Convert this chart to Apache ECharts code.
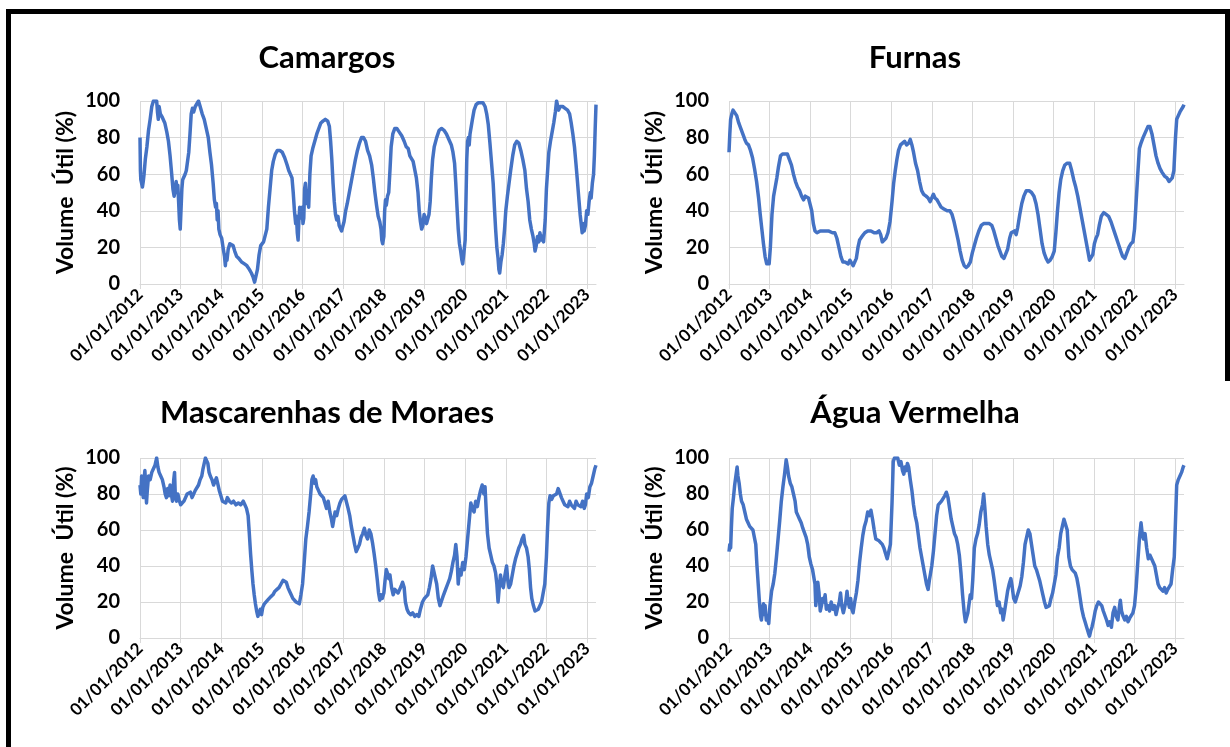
<!DOCTYPE html>
<html><head><meta charset="utf-8">
<script src="https://cdn.jsdelivr.net/npm/echarts@6/dist/echarts.min.js"></script>
<style>html,body{margin:0;padding:0;background:#fff}#c{width:1230px;height:747px}</style>
</head><body><div id="c"></div>
<script>
const titles = ['Camargos', 'Furnas', 'Mascarenhas de Moraes', 'Água Vermelha'];
const yearTicks = [2012,2013,2014,2015,2016,2017,2018,2019,2020,2021,2022,2023];
const yTickLabels = [0,20,40,60,80,100];
const yName = 'Volume  Útil (%)';

const camargos = [[2012.00,80],[2012.01,62],[2012.02,57],[2012.04,55],[2012.06,53],[2012.08,56],[2012.10,60],[2012.13,68],[2012.17,75],[2012.21,84],[2012.25,90],[2012.29,97],[2012.33,100],[2012.37,99],[2012.41,100],[2012.43,94],[2012.45,90],[2012.47,97],[2012.50,93],[2012.55,91],[2012.61,88],[2012.66,83],[2012.70,78],[2012.74,70],[2012.78,60],[2012.81,52],[2012.84,48],[2012.87,52],[2012.89,56],[2012.91,50],[2012.93,54],[2012.95,45],[2012.97,35],[2012.99,30],[2013.01,31],[2013.03,52],[2013.05,57],[2013.08,56],[2013.11,60],[2013.14,62],[2013.17,63],[2013.20,72],[2013.23,82],[2013.26,93],[2013.29,96],[2013.32,94],[2013.36,97],[2013.40,98],[2013.44,100],[2013.48,97],[2013.53,93],[2013.58,90],[2013.63,85],[2013.68,80],[2013.72,72],[2013.76,65],[2013.80,55],[2013.83,46],[2013.86,42],[2013.88,44],[2013.90,35],[2013.92,40],[2013.94,30],[2013.97,27],[2014.01,25],[2014.05,19],[2014.08,15],[2014.10,10],[2014.12,16],[2014.14,13],[2014.17,19],[2014.21,22],[2014.25,23],[2014.29,21],[2014.33,18],[2014.38,15],[2014.43,14],[2014.50,12],[2014.57,11],[2014.63,10],[2014.69,8],[2014.74,6],[2014.78,4],[2014.82,1],[2014.85,2],[2014.89,8],[2014.93,16],[2014.97,21],[2015.00,20],[2015.04,23],[2015.08,22],[2015.12,30],[2015.16,42],[2015.20,52],[2015.24,62],[2015.28,67],[2015.33,71],[2015.38,73],[2015.44,73],[2015.50,72],[2015.56,69],[2015.62,65],[2015.66,62],[2015.70,62],[2015.74,58],[2015.77,50],[2015.80,40],[2015.83,33],[2015.85,37],[2015.87,28],[2015.89,24],[2015.91,35],[2015.93,42],[2015.95,36],[2015.97,38],[2015.99,42],[2016.01,33],[2016.03,36],[2016.05,52],[2016.07,55],[2016.09,48],[2016.11,44],[2016.13,50],[2016.15,42],[2016.18,60],[2016.21,70],[2016.25,74],[2016.30,78],[2016.35,82],[2016.40,85],[2016.45,88],[2016.50,89],[2016.56,90],[2016.62,89],[2016.66,86],[2016.69,78],[2016.72,68],[2016.75,55],[2016.78,45],[2016.81,38],[2016.84,35],[2016.87,37],[2016.90,32],[2016.93,33],[2016.96,29],[2016.99,28],[2017.02,34],[2017.06,40],[2017.10,44],[2017.15,50],[2017.20,56],[2017.25,62],[2017.30,68],[2017.35,73],[2017.40,77],[2017.45,80],[2017.50,80],[2017.55,78],[2017.60,73],[2017.65,70],[2017.70,65],[2017.74,58],[2017.78,50],[2017.82,43],[2017.86,37],[2017.90,34],[2017.93,30],[2017.95,24],[2017.97,22],[2018.00,26],[2018.02,40],[2018.04,46],[2018.06,43],[2018.09,48],[2018.12,50],[2018.15,62],[2018.18,75],[2018.22,82],[2018.27,85],[2018.32,85],[2018.38,83],[2018.44,81],[2018.50,78],[2018.55,75],[2018.60,74],[2018.64,70],[2018.68,70],[2018.72,67],[2018.76,66],[2018.80,58],[2018.84,50],[2018.87,40],[2018.90,34],[2018.93,30],[2018.96,32],[2018.99,38],[2019.02,36],[2019.05,33],[2019.08,34],[2019.11,38],[2019.14,45],[2019.17,58],[2019.20,68],[2019.24,75],[2019.30,80],[2019.36,84],[2019.42,85],[2019.48,84],[2019.54,82],[2019.60,79],[2019.66,76],[2019.70,72],[2019.74,66],[2019.77,55],[2019.80,42],[2019.83,30],[2019.86,22],[2019.89,18],[2019.92,13],[2019.94,11],[2019.97,17],[2020.00,24],[2020.02,45],[2020.04,68],[2020.06,78],[2020.08,80],[2020.10,76],[2020.12,82],[2020.15,86],[2020.18,90],[2020.22,95],[2020.27,98],[2020.32,99],[2020.38,99],[2020.44,99],[2020.49,97],[2020.53,93],[2020.57,87],[2020.61,77],[2020.65,66],[2020.69,55],[2020.72,42],[2020.75,30],[2020.78,20],[2020.81,14],[2020.83,8],[2020.85,6],[2020.88,12],[2020.91,16],[2020.94,22],[2020.97,30],[2021.00,40],[2021.04,48],[2021.08,55],[2021.12,62],[2021.17,70],[2021.22,76],[2021.27,78],[2021.32,77],[2021.37,73],[2021.42,68],[2021.47,62],[2021.51,52],[2021.55,45],[2021.59,35],[2021.63,30],[2021.67,26],[2021.70,22],[2021.72,18],[2021.75,21],[2021.78,26],[2021.81,23],[2021.84,28],[2021.87,24],[2021.90,26],[2021.93,23],[2021.97,35],[2022.00,52],[2022.03,62],[2022.06,72],[2022.10,78],[2022.14,83],[2022.18,88],[2022.22,94],[2022.25,100],[2022.27,98],[2022.30,95],[2022.34,97],[2022.40,97],[2022.46,96],[2022.52,95],[2022.57,93],[2022.61,88],[2022.65,82],[2022.69,75],[2022.73,65],[2022.76,57],[2022.80,46],[2022.83,38],[2022.86,32],[2022.88,28],[2022.91,33],[2022.93,29],[2022.96,32],[2022.99,40],[2023.02,38],[2023.05,45],[2023.08,50],[2023.10,47],[2023.13,55],[2023.16,60],[2023.18,70],[2023.20,85],[2023.22,98]];

const furnas = [[2012.00,72],[2012.02,82],[2012.04,90],[2012.07,93],[2012.10,95],[2012.14,95],[2012.19,92],[2012.24,88],[2012.29,85],[2012.34,82],[2012.39,79],[2012.43,77],[2012.48,76],[2012.53,73],[2012.58,69],[2012.63,63],[2012.68,56],[2012.73,47],[2012.77,38],[2012.81,30],[2012.85,22],[2012.89,15],[2012.93,11],[2012.96,12],[2012.99,11],[2013.02,20],[2013.06,38],[2013.10,48],[2013.14,53],[2013.18,58],[2013.22,64],[2013.27,70],[2013.32,71],[2013.38,71],[2013.44,71],[2013.49,68],[2013.54,65],[2013.59,60],[2013.64,56],[2013.69,53],[2013.74,51],[2013.79,48],[2013.84,46],[2013.88,48],[2013.92,49],[2013.96,47],[2014.00,46],[2014.04,40],[2014.08,33],[2014.12,29],[2014.17,28],[2014.25,29],[2014.35,29],[2014.45,29],[2014.55,28],[2014.61,28],[2014.66,25],[2014.71,20],[2014.76,15],[2014.81,12],[2014.86,12],[2014.90,13],[2014.94,11],[2014.98,13],[2015.02,12],[2015.06,10],[2015.10,11],[2015.14,14],[2015.18,20],[2015.22,24],[2015.28,26],[2015.35,28],[2015.42,29],[2015.50,29],[2015.58,28],[2015.64,28],[2015.70,29],[2015.74,27],[2015.78,23],[2015.82,22],[2015.87,25],[2015.92,28],[2015.97,34],[2016.02,45],[2016.06,55],[2016.10,62],[2016.14,68],[2016.18,73],[2016.23,76],[2016.28,77],[2016.33,78],[2016.38,76],[2016.43,77],[2016.47,79],[2016.51,76],[2016.55,72],[2016.60,66],[2016.65,62],[2016.70,56],[2016.75,51],[2016.80,49],[2016.86,48],[2016.91,47],[2016.96,45],[2017.00,44],[2017.04,49],[2017.08,47],[2017.13,46],[2017.18,44],[2017.23,42],[2017.30,41],[2017.38,40],[2017.45,40],[2017.50,38],[2017.55,34],[2017.60,29],[2017.65,24],[2017.70,18],[2017.75,13],[2017.80,10],[2017.85,9],[2017.90,10],[2017.95,12],[2018.00,17],[2018.05,21],[2018.10,25],[2018.16,29],[2018.22,32],[2018.28,33],[2018.35,33],[2018.42,33],[2018.48,32],[2018.53,29],[2018.58,25],[2018.63,21],[2018.68,18],[2018.73,15],[2018.78,14],[2018.82,15],[2018.87,19],[2018.92,25],[2018.96,28],[2019.00,27],[2019.04,29],[2019.08,27],[2019.12,31],[2019.17,38],[2019.22,44],[2019.27,48],[2019.33,51],[2019.40,51],[2019.46,50],[2019.52,48],[2019.57,44],[2019.62,38],[2019.67,30],[2019.72,22],[2019.77,17],[2019.82,14],[2019.87,12],[2019.92,13],[2019.97,15],[2020.02,18],[2020.06,28],[2020.10,40],[2020.14,50],[2020.18,57],[2020.23,62],[2020.28,65],[2020.34,66],[2020.40,66],[2020.45,62],[2020.50,57],[2020.55,53],[2020.60,48],[2020.65,42],[2020.70,36],[2020.75,30],[2020.80,24],[2020.85,18],[2020.89,13],[2020.93,12],[2020.97,16],[2021.01,22],[2021.05,25],[2021.09,27],[2021.13,32],[2021.18,37],[2021.24,39],[2021.30,38],[2021.36,37],[2021.42,34],[2021.48,30],[2021.54,26],[2021.60,22],[2021.66,18],[2021.71,15],[2021.76,14],[2021.81,17],[2021.86,20],[2021.91,22],[2021.96,23],[2022.00,30],[2022.04,45],[2022.08,60],[2022.12,74],[2022.16,77],[2022.21,80],[2022.27,83],[2022.33,86],[2022.38,86],[2022.43,82],[2022.48,76],[2022.53,70],[2022.58,66],[2022.63,63],[2022.68,61],[2022.74,59],[2022.80,58],[2022.85,56],[2022.89,55],[2022.93,58],[2022.97,62],[2023.01,80],[2023.04,90],[2023.08,92],[2023.12,94],[2023.16,95],[2023.20,97],[2023.22,98]];

const mascarenhas = [[2012.00,85],[2012.02,80],[2012.04,90],[2012.06,82],[2012.08,78],[2012.10,88],[2012.12,93],[2012.14,85],[2012.16,75],[2012.18,82],[2012.21,90],[2012.25,88],[2012.29,92],[2012.33,94],[2012.37,96],[2012.41,100],[2012.44,95],[2012.47,92],[2012.51,90],[2012.55,88],[2012.59,84],[2012.62,80],[2012.65,78],[2012.68,83],[2012.71,79],[2012.74,85],[2012.77,80],[2012.80,76],[2012.83,88],[2012.85,92],[2012.87,78],[2012.90,76],[2012.93,80],[2012.96,77],[2013.00,74],[2013.04,73],[2013.08,76],[2013.12,78],[2013.16,80],[2013.20,79],[2013.24,81],[2013.28,78],[2013.32,80],[2013.36,82],[2013.40,82],[2013.44,85],[2013.48,88],[2013.52,90],[2013.55,94],[2013.58,97],[2013.61,100],[2013.64,99],[2013.67,97],[2013.70,92],[2013.73,90],[2013.77,88],[2013.81,85],[2013.85,84],[2013.88,89],[2013.91,86],[2013.95,82],[2013.99,79],[2014.03,76],[2014.07,77],[2014.11,75],[2014.15,78],[2014.20,76],[2014.25,75],[2014.30,76],[2014.36,74],[2014.42,75],[2014.48,74],[2014.54,76],[2014.58,74],[2014.62,72],[2014.66,68],[2014.69,58],[2014.72,47],[2014.75,38],[2014.78,30],[2014.81,24],[2014.84,19],[2014.87,15],[2014.90,12],[2014.93,14],[2014.96,16],[2014.99,13],[2015.02,17],[2015.06,19],[2015.10,18],[2015.14,21],[2015.18,20],[2015.22,23],[2015.27,24],[2015.32,26],[2015.37,27],[2015.42,28],[2015.47,30],[2015.52,32],[2015.56,33],[2015.60,31],[2015.64,28],[2015.68,26],[2015.72,24],[2015.76,22],[2015.80,21],[2015.84,20],[2015.88,19],[2015.92,19],[2015.96,24],[2016.00,30],[2016.04,42],[2016.08,55],[2016.12,62],[2016.16,70],[2016.20,80],[2016.23,88],[2016.26,90],[2016.29,86],[2016.32,88],[2016.35,84],[2016.39,82],[2016.43,80],[2016.47,81],[2016.51,78],[2016.55,75],[2016.59,72],[2016.63,76],[2016.67,70],[2016.71,66],[2016.74,62],[2016.77,66],[2016.80,70],[2016.84,68],[2016.88,72],[2016.92,75],[2016.96,77],[2017.00,76],[2017.04,79],[2017.08,78],[2017.12,72],[2017.16,68],[2017.20,62],[2017.24,57],[2017.28,52],[2017.32,48],[2017.36,50],[2017.40,52],[2017.44,56],[2017.48,58],[2017.52,61],[2017.56,57],[2017.60,55],[2017.64,60],[2017.68,58],[2017.72,53],[2017.76,47],[2017.80,40],[2017.84,32],[2017.87,25],[2017.90,21],[2017.93,24],[2017.96,22],[2018.00,25],[2018.03,32],[2018.06,38],[2018.09,36],[2018.12,33],[2018.15,35],[2018.19,28],[2018.23,24],[2018.27,27],[2018.31,28],[2018.35,25],[2018.39,27],[2018.43,29],[2018.46,31],[2018.50,28],[2018.53,20],[2018.57,16],[2018.61,14],[2018.66,13],[2018.71,14],[2018.76,12],[2018.81,13],[2018.86,12],[2018.90,16],[2018.95,20],[2019.00,22],[2019.04,21],[2019.08,24],[2019.12,28],[2019.16,33],[2019.20,40],[2019.23,37],[2019.26,34],[2019.30,30],[2019.34,22],[2019.38,18],[2019.42,19],[2019.47,24],[2019.52,27],[2019.57,30],[2019.62,33],[2019.66,37],[2019.70,42],[2019.74,46],[2019.77,52],[2019.80,45],[2019.83,30],[2019.86,38],[2019.90,35],[2019.94,42],[2019.98,38],[2020.02,45],[2020.06,55],[2020.10,65],[2020.14,75],[2020.18,72],[2020.22,70],[2020.26,76],[2020.30,73],[2020.34,78],[2020.38,82],[2020.42,85],[2020.46,80],[2020.49,84],[2020.52,70],[2020.55,58],[2020.59,50],[2020.63,46],[2020.67,42],[2020.71,40],[2020.75,36],[2020.78,30],[2020.81,20],[2020.84,28],[2020.87,35],[2020.90,30],[2020.94,28],[2020.98,35],[2021.02,40],[2021.05,32],[2021.08,28],[2021.12,30],[2021.16,35],[2021.20,40],[2021.24,44],[2021.28,47],[2021.32,50],[2021.36,52],[2021.40,55],[2021.44,57],[2021.47,52],[2021.51,50],[2021.55,45],[2021.58,38],[2021.61,28],[2021.64,22],[2021.68,18],[2021.72,15],[2021.76,14],[2021.80,16],[2021.84,18],[2021.88,20],[2021.92,21],[2021.96,30],[2022.00,45],[2022.03,62],[2022.06,75],[2022.09,79],[2022.13,77],[2022.17,79],[2022.21,78],[2022.25,80],[2022.29,83],[2022.33,82],[2022.37,78],[2022.41,76],[2022.45,74],[2022.49,75],[2022.53,73],[2022.57,76],[2022.61,74],[2022.65,75],[2022.69,72],[2022.73,76],[2022.77,74],[2022.81,75],[2022.85,73],[2022.89,76],[2022.93,72],[2022.96,74],[2022.99,80],[2023.03,78],[2023.07,84],[2023.11,86],[2023.15,90],[2023.19,94],[2023.22,96]];

const aguaVermelha = [[2012.00,48],[2012.02,52],[2012.04,50],[2012.06,62],[2012.08,72],[2012.11,78],[2012.14,85],[2012.17,90],[2012.20,95],[2012.22,90],[2012.25,86],[2012.28,80],[2012.31,76],[2012.35,74],[2012.39,70],[2012.43,66],[2012.47,64],[2012.51,62],[2012.55,62],[2012.59,60],[2012.63,60],[2012.66,52],[2012.69,40],[2012.72,30],[2012.75,20],[2012.78,12],[2012.80,10],[2012.83,16],[2012.85,19],[2012.87,13],[2012.89,18],[2012.92,10],[2012.95,12],[2012.98,8],[2013.01,18],[2013.05,26],[2013.09,30],[2013.13,36],[2013.17,45],[2013.21,55],[2013.25,65],[2013.29,76],[2013.33,84],[2013.37,91],[2013.41,99],[2013.44,95],[2013.47,90],[2013.51,86],[2013.55,84],[2013.59,80],[2013.63,76],[2013.66,70],[2013.70,68],[2013.74,66],[2013.78,64],[2013.82,61],[2013.86,60],[2013.90,56],[2013.94,52],[2013.98,45],[2014.02,41],[2014.06,38],[2014.09,39],[2014.12,30],[2014.14,18],[2014.17,25],[2014.19,31],[2014.22,25],[2014.25,15],[2014.28,18],[2014.31,22],[2014.34,20],[2014.37,24],[2014.40,16],[2014.44,18],[2014.48,15],[2014.52,20],[2014.56,16],[2014.60,18],[2014.64,13],[2014.68,17],[2014.72,20],[2014.75,25],[2014.78,18],[2014.82,14],[2014.85,15],[2014.88,20],[2014.91,26],[2014.94,20],[2014.97,17],[2015.00,22],[2015.03,16],[2015.06,14],[2015.10,20],[2015.14,25],[2015.18,32],[2015.22,42],[2015.26,50],[2015.30,57],[2015.34,62],[2015.38,65],[2015.42,70],[2015.46,68],[2015.50,71],[2015.54,66],[2015.58,60],[2015.62,55],[2015.66,56],[2015.70,54],[2015.74,55],[2015.78,52],[2015.82,50],[2015.86,47],[2015.90,44],[2015.94,43],[2015.98,52],[2016.02,75],[2016.05,98],[2016.08,100],[2016.12,99],[2016.16,100],[2016.20,96],[2016.24,98],[2016.28,93],[2016.31,91],[2016.34,95],[2016.37,93],[2016.40,97],[2016.43,95],[2016.47,88],[2016.51,82],[2016.55,74],[2016.59,68],[2016.63,64],[2016.67,57],[2016.71,50],[2016.75,45],[2016.79,40],[2016.83,35],[2016.87,30],[2016.91,27],[2016.94,32],[2016.97,36],[2017.00,40],[2017.04,48],[2017.08,58],[2017.12,68],[2017.16,74],[2017.20,73],[2017.24,76],[2017.28,75],[2017.32,79],[2017.36,81],[2017.40,78],[2017.44,72],[2017.48,66],[2017.52,62],[2017.56,58],[2017.60,56],[2017.64,52],[2017.68,46],[2017.72,36],[2017.76,24],[2017.80,14],[2017.83,9],[2017.86,8],[2017.89,14],[2017.92,19],[2017.95,24],[2017.98,22],[2018.01,32],[2018.05,50],[2018.09,55],[2018.13,58],[2018.17,63],[2018.21,70],[2018.25,74],[2018.28,80],[2018.31,72],[2018.34,62],[2018.38,52],[2018.42,46],[2018.46,42],[2018.50,38],[2018.54,32],[2018.58,25],[2018.62,18],[2018.66,20],[2018.70,14],[2018.73,16],[2018.76,10],[2018.79,14],[2018.83,20],[2018.87,26],[2018.91,30],[2018.95,33],[2018.98,29],[2019.02,22],[2019.06,20],[2019.10,23],[2019.14,26],[2019.18,29],[2019.22,34],[2019.26,42],[2019.30,52],[2019.34,56],[2019.38,60],[2019.42,58],[2019.46,52],[2019.50,46],[2019.54,40],[2019.58,38],[2019.62,35],[2019.66,32],[2019.70,28],[2019.74,24],[2019.78,20],[2019.82,17],[2019.86,16],[2019.90,18],[2019.94,22],[2019.98,25],[2020.02,26],[2020.06,35],[2020.10,45],[2020.14,50],[2020.18,58],[2020.22,62],[2020.26,66],[2020.30,67],[2020.34,60],[2020.38,45],[2020.42,40],[2020.46,38],[2020.50,39],[2020.54,36],[2020.58,33],[2020.62,28],[2020.66,22],[2020.70,16],[2020.74,12],[2020.78,9],[2020.82,6],[2020.86,3],[2020.89,1],[2020.92,4],[2020.95,6],[2020.99,10],[2021.03,15],[2021.07,18],[2021.11,20],[2021.15,21],[2021.19,18],[2021.23,15],[2021.27,14],[2021.31,10],[2021.35,7],[2021.39,9],[2021.43,6],[2021.47,14],[2021.51,17],[2021.55,12],[2021.59,10],[2021.62,16],[2021.65,21],[2021.68,15],[2021.72,12],[2021.76,10],[2021.80,12],[2021.84,9],[2021.88,11],[2021.92,12],[2021.96,14],[2022.00,18],[2022.04,28],[2022.08,42],[2022.12,55],[2022.16,64],[2022.19,58],[2022.22,55],[2022.26,58],[2022.30,50],[2022.34,44],[2022.38,46],[2022.42,44],[2022.46,43],[2022.50,40],[2022.54,35],[2022.58,30],[2022.62,28],[2022.66,27],[2022.70,26],[2022.74,28],[2022.78,25],[2022.82,27],[2022.86,26],[2022.90,30],[2022.94,38],[2022.98,45],[2023.01,65],[2023.04,85],[2023.08,88],[2023.12,90],[2023.16,92],[2023.20,95],[2023.22,96]];

const seriesData = [camargos, furnas, mascarenhas, aguaVermelha];
const FONT = 'Lato';
const grids = [
  {left: 140, top: 101, width: 456, height: 183},
  {left: 729, top: 101, width: 455, height: 183},
  {left: 140, top: 458, width: 456, height: 180},
  {left: 729, top: 458, width: 455, height: 180}
];
const titlePos = [[327, 42], [915, 42], [327, 397], [915, 397]];
const gridColor = '#d9d9d9';

const chart = echarts.init(document.getElementById('c'), null, {renderer: 'canvas'});
const option = {
  animation: false,
  backgroundColor: '#fff',
  title: titles.map((t, i) => ({
    text: t, left: titlePos[i][0], top: titlePos[i][1], textAlign: 'center', padding: 0,
    textStyle: {fontFamily: FONT, fontWeight: 'bold', fontSize: 31, color: '#000'}
  })),
  grid: grids.map(g => Object.assign({containLabel: false}, g)),
  xAxis: grids.map((g, i) => ({
    type: 'value', gridIndex: i, min: 2012, max: 2023.22, interval: 1,
    axisLine: {show: true, lineStyle: {color: gridColor, width: 1}},
    axisTick: {show: true, length: 5, lineStyle: {color: gridColor}, customValues: yearTicks},
    splitLine: {show: true, lineStyle: {color: gridColor, width: 1}},
    axisLabel: {
      customValues: yearTicks, rotate: 45, margin: 8,
      fontFamily: FONT, fontWeight: 'bold', fontSize: 17, color: '#000',
      formatter: v => '01/01/' + Math.round(v)
    }
  })),
  yAxis: grids.map((g, i) => ({
    type: 'value', gridIndex: i, min: 0, max: 100, interval: 20,
    name: yName, nameLocation: 'middle', nameGap: 63, nameRotate: 90,
    nameTextStyle: {fontFamily: FONT, fontWeight: 'bold', fontSize: 23, color: '#000'},
    axisLine: {show: false}, axisTick: {show: false},
    splitLine: {show: true, lineStyle: {color: gridColor, width: 1}},
    axisLabel: {margin: 20, fontFamily: FONT, fontWeight: 'bold', fontSize: 20, color: '#000',
      formatter: v => (yTickLabels.indexOf(v) >= 0 ? String(v) : '')}
  })),
  series: seriesData.map((d, i) => ({
    type: 'line', xAxisIndex: i, yAxisIndex: i, data: d,
    showSymbol: false, symbol: 'none',
    lineStyle: {color: '#4472C4', width: 3.5, join: 'round'},
    itemStyle: {color: '#4472C4'}
  })),
  graphic: [
    {type: 'rect', shape: {x: 6, y: 9, width: 1224, height: 5}, style: {fill: '#000'}},
    {type: 'rect', shape: {x: 6, y: 9, width: 5, height: 738}, style: {fill: '#000'}},
    {type: 'rect', shape: {x: 1225, y: 9, width: 5, height: 372}, style: {fill: '#000'}}
  ]
};
chart.setOption(option);
</script></body></html>
